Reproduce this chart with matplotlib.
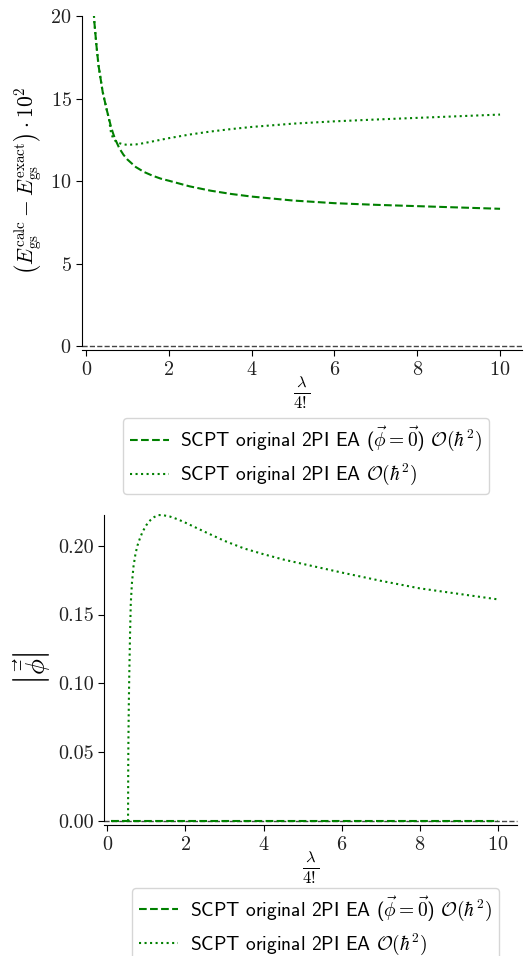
import matplotlib
matplotlib.use("Agg")
import matplotlib.pyplot as plt

# lambda / 4! grid for the energy curves
lam = [0.1, 0.15, 0.2, 0.25, 0.3, 0.4, 0.5, 0.55, 0.6, 0.65, 0.7, 0.8, 0.9, 1.0,
       1.2, 1.4, 1.6, 1.8, 2.0, 2.5, 3.0, 3.5, 4.0, 5.0, 6.0, 7.0, 8.0, 9.0, 10.0]
# (E_calc - E_exact) * 10^2, phi = 0 solution
e_sym = [24.0, 21.5, 19.6, 18.2, 17.0, 15.4, 14.3, 13.8, 13.3, 12.9, 12.55, 12.0, 11.6, 11.3,
         10.85, 10.55, 10.33, 10.15, 10.02, 9.68, 9.42, 9.22, 9.06, 8.82, 8.66, 8.56, 8.48, 8.40, 8.32]
# (E_calc - E_exact) * 10^2, full solution
e_full = [24.0, 21.5, 19.6, 18.2, 17.0, 15.4, 14.3, 13.8, 12.95, 12.6, 12.45, 12.3, 12.22, 12.2,
          12.22, 12.3, 12.4, 12.5, 12.6, 12.82, 13.0, 13.15, 13.28, 13.48, 13.62, 13.73, 13.83, 13.93, 14.03]

# grid for |phi|
lam_phi = [0.1, 0.5, 0.53, 0.535, 0.54, 0.55, 0.56, 0.58, 0.6, 0.63, 0.67, 0.72, 0.77, 0.83,
           0.9, 1.0, 1.1, 1.2, 1.3, 1.4, 1.6, 1.8, 2.0, 2.5, 3.0, 3.5, 4.0, 4.5, 5.0, 6.0,
           7.0, 8.0, 9.0, 10.0]
phi_sym = [0.0] * len(lam_phi)
phi_full = [0.0, 0.0, 0.0, 0.042, 0.06, 0.085, 0.104, 0.134, 0.158, 0.173, 0.185, 0.194, 0.200, 0.205,
            0.210, 0.215, 0.2185, 0.2208, 0.2222, 0.2223, 0.2212, 0.2192, 0.2167, 0.2100, 0.2035, 0.1980,
            0.1938, 0.1900, 0.1868, 0.1805, 0.1745, 0.1690, 0.1650, 0.1610]

label_sym = r"SCPT original 2PI EA ($\vec{\phi}=\vec{0}$) $\mathcal{O}(\hbar^2)$"
label_full = r"SCPT original 2PI EA $\mathcal{O}(\hbar^2)$"

plt.rcParams["font.family"] = "cmr10"
plt.rcParams["mathtext.fontset"] = "cm"
plt.rcParams["axes.unicode_minus"] = False
plt.rcParams["axes.formatter.use_mathtext"] = True

fig = plt.figure(figsize=(5.31, 9.56), dpi=100)

def style_axes(ax):
    ax.spines["top"].set_visible(False)
    ax.spines["right"].set_visible(False)
    ax.spines["bottom"].set_position(("outward", 3))
    ax.tick_params(labelsize=14.5, direction="out", length=4, labelcolor="#222222")
    ax.axhline(0, color="#444444", ls="--", lw=1, zorder=1, clip_on=False)

def add_legend(ax, x, y):
    ax.legend([label_sym, label_full], loc="upper center", bbox_to_anchor=(x, y),
              prop={"family": "cmss10", "size": 14}, labelspacing=0.45, handlelength=2.0,
              handletextpad=0.6, borderpad=0.35, borderaxespad=0, edgecolor="#cccccc")

# --- top panel: energy error
ax1 = fig.add_axes([0.1544, 0.638, 0.8286, 0.3452])
ax1.plot(lam, e_sym, color="green", ls="--", lw=1.5)
ax1.plot(lam, e_full, color="green", ls=":", lw=1.5)
ax1.set_xlim(-0.1, 10.53)
ax1.set_ylim(0, 20)
ax1.set_xticks([0, 2, 4, 6, 8, 10])
ax1.set_yticks([0, 5, 10, 15, 20])
style_axes(ax1)
ax1.set_xlabel(r"$\frac{\lambda}{4!}$", fontsize=17, labelpad=-3)
ax1.set_ylabel(r"$\left(E_{\rm gs}^{\rm calc}-E_{\rm gs}^{\rm exact}\right)\cdot 10^2$", fontsize=15.5)
add_legend(ax1, 0.509, -0.218)

# --- bottom panel: |phi|
ax2 = fig.add_axes([0.1959, 0.1412, 0.7778, 0.3201])
ax2.plot(lam_phi, phi_sym, color="green", ls="--", lw=1.5, clip_on=False)
ax2.plot(lam_phi, phi_full, color="green", ls=":", lw=1.5, clip_on=False)
ax2.set_xlim(-0.085, 10.49)
ax2.set_ylim(0, max(phi_full))
ax2.set_xticks([0, 2, 4, 6, 8, 10])
ax2.set_yticks([0.0, 0.05, 0.10, 0.15, 0.20])
ax2.yaxis.set_major_formatter(matplotlib.ticker.FormatStrFormatter("%.2f"))
style_axes(ax2)
ax2.set_xlabel(r"$\frac{\lambda}{4!}$", fontsize=17, labelpad=-3)
ax2.set_ylabel(r"$\left|\vec{\bar{\phi}}\right|$", fontsize=19)
add_legend(ax2, 0.512, -0.218)

fig.savefig("out.png", dpi=100)
